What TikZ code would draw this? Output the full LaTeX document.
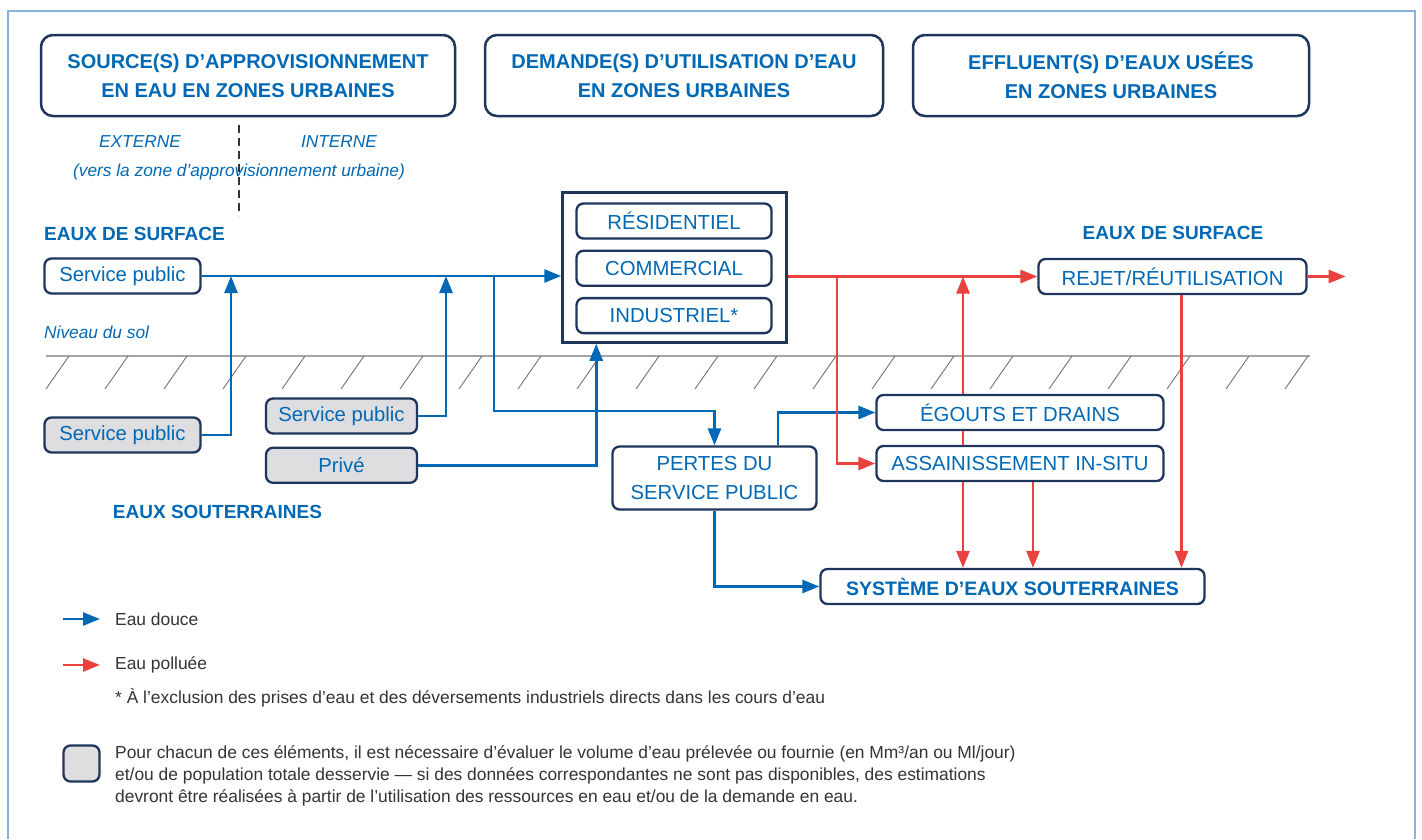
\documentclass[tikz,border=0pt]{standalone}
\usepackage{fontspec}
\setmainfont{Liberation Sans}
\usepackage{tikz}
\usetikzlibrary{positioning,arrows.meta,calc}
\usepackage{xcolor}
\definecolor{wblue}{RGB}{0,104,180}
\definecolor{navy}{RGB}{31,53,92}
\definecolor{wred}{RGB}{232,65,62}
\definecolor{gfill}{RGB}{222,222,224}
\definecolor{framec}{RGB}{135,178,220}
\definecolor{soil}{RGB}{165,165,165}

\begin{document}
\begin{tikzpicture}[x=1pt, y=-1pt,
	hdr/.style={draw=navy, line width=2.5pt, rounded corners=12pt, text=wblue, align=center, font=\bfseries\fontsize{20}{29}\selectfont, minimum height=81pt},
	box/.style={draw=navy, line width=2.3pt, rounded corners=7pt, fill=white, text=wblue, align=center, font=\fontsize{20.3}{29}\selectfont, minimum height=35pt, inner sep=0pt},
	gbox/.style={box, fill=gfill},
	lbl/.style={text=wblue, font=\bfseries\fontsize{19}{23}\selectfont, inner sep=0pt},
	note/.style={text=wblue, font=\itshape\fontsize{17.3}{20}\selectfont, inner sep=0pt},
	legend/.style={text=black!80, font=\fontsize{17.4}{22}\selectfont, inner sep=0pt, align=left},
	fresh/.style={draw=wblue, line width=2.6pt, -{Triangle[length=17pt,width=13pt]}},
	foul line/.style={draw=wred, line width=2.6pt},
	foul/.style={foul line, -{Triangle[length=17pt,width=13pt]}},
	cut/.style={draw=black!80, line width=2.6pt, dash pattern=on 8pt off 5pt},
	ground/.style={draw=soil, line width=2pt},
	hatch/.style={draw=black!55, line width=0.9pt}
]
\useasboundingbox (0,0) rectangle (1422,839);
\draw[draw=framec, line width=2pt] (8,839) -- (8,11) -- (1415,11) -- (1415,839);

\node[hdr, minimum width=414pt] (src) at (248,75.5) {SOURCE(S) D’APPROVISIONNEMENT\\EN EAU EN ZONES URBAINES};
\node[hdr, minimum width=398pt] (dem) at (684,75.5) {DEMANDE(S) D’UTILISATION D’EAU\\EN ZONES URBAINES};
\node[hdr, minimum width=396pt] (eff) at (1111,75.5) {EFFLUENT(S) D’EAUX USÉES\\EN ZONES URBAINES};

\draw[cut] (239,125) coordinate (cuttop) -- (239,216) coordinate (cutbot);
\node[note] (ext) at (140,142) {EXTERNE};
\node[note] (int) at (339,142) {INTERNE};
\node[note] (vers) at (239,172) {(vers la zone d’approvisionnement urbaine)};

\node[lbl, anchor=west] (surf) at (44,234) {EAUX DE SURFACE};
\node[lbl] (surfr) at (1173,233) {EAUX DE SURFACE};
\node[lbl] (sout) at (217.5,512) {EAUX SOUTERRAINES};
\node[note, anchor=west] (sol) at (44,332) {Niveau du sol};

\draw[ground] (46,356) coordinate (g0) -- (1310,356) coordinate (g1);
\foreach \i in {0,...,21}
	\draw[hatch] ({69+59*\i},356) -- ++(-23,33);

\node[box, minimum width=156pt] (sp1) at (122.5,276) {Service public};
\node[gbox, minimum width=156pt] (gsp1) at (122.5,435) {Service public};
\node[gbox, minimum width=151pt] (gsp2) at (341.5,416) {Service public};
\node[gbox, minimum width=151pt, below=12pt of gsp2] (gpriv) {Privé};

\node[draw=navy, line width=2.5pt, minimum width=224pt, minimum height=150pt] (use) at (674.5,267.5) {};
\node[box, minimum width=195pt] (res) at (674,221) {RÉSIDENTIEL};
\node[box, minimum width=195pt, below=10pt of res] (com) {COMMERCIAL};
\node[box, minimum width=195pt, below=10pt of com] (ind) {INDUSTRIEL*};

\node[box, minimum width=204pt, minimum height=63pt] (pertes) at (714.5,478) {PERTES DU\\SERVICE PUBLIC};
\node[box, minimum width=287pt] (egouts) at (1020,412.5) {ÉGOUTS ET DRAINS};
\node[box, minimum width=287pt] (assain) at (1020,463.5) {ASSAINISSEMENT IN-SITU};
\node[box, minimum width=268pt] (rejet) at (1172.5,276.5) {REJET/RÉUTILISATION};
\node[box, minimum width=384pt, font=\bfseries\fontsize{19.5}{29}\selectfont] (syst) at (1012.5,586.5) {SYSTÈME D’EAUX SOUTERRAINES};

\coordinate (j1) at (231,276);
\coordinate (j2) at (446,276);
\coordinate (j4) at (494,276);
\coordinate (j5) at (837,276.5);
\coordinate (j6) at (963,276.5);

\draw[fresh] (sp1.east) -- (sp1.east -| use.west);
\draw[fresh] (gsp1.east) -| (j1);
\draw[fresh] (gsp2.east) -| (j2);
\draw[fresh] (gpriv.east) -| ($(use.south west)+(35,0)$);
\draw[fresh] (j4) -- ++(0,135) -| (pertes.north);
\draw[fresh] ($(pertes.north)+(63.5,0)$) |- (egouts.west);
\draw[fresh] (pertes.south) |- (syst.west);

\draw[foul] (use.east |- rejet.west) -- (rejet.west);
\draw[foul] (rejet.east) -- ++(38,0);
\draw[foul] (j5) |- (assain.west);
\draw[foul] (egouts.north -| j6) -- (j6);
\draw[foul line] (egouts.south -| j6) -- (assain.north -| j6);
\draw[foul] (assain.south -| j6) -- (syst.north -| j6);
\draw[foul] ($(assain.south)+(13,0)$) coordinate (a1) -- (a1 |- syst.north);
\draw[foul] ($(rejet.south)+(9,0)$) coordinate (r1) -- (r1 |- syst.north);

\node[legend, anchor=west] (ldouce) at (115,619) {Eau douce};
\draw[fresh] ($(ldouce.west)+(-52,0)$) -- ($(ldouce.west)+(-15,0)$);
\node[legend, anchor=west] (lpol) at (115,665) {Eau polluée};
\draw[foul] ($(lpol.west)+(-52,0)$) -- ($(lpol.west)+(-15,0)$);
\node[legend, anchor=west] (lstar) at (115,698) {* À l’exclusion des prises d’eau et des déversements industriels directs dans les cours d’eau};
\node[gbox, minimum width=36pt, minimum height=36pt] (lgray) at (81.5,763.5) {};
\node[legend, anchor=west] (lnote) at (115,776) {Pour chacun de ces éléments, il est nécessaire d’évaluer le volume d’eau prélevée ou fournie (en Mm³/an ou Ml/jour)\\et/ou de population totale desservie — si des données correspondantes ne sont pas disponibles, des estimations\\devront être réalisées à partir de l’utilisation des ressources en eau et/ou de la demande en eau.};
\end{tikzpicture}
\end{document}
